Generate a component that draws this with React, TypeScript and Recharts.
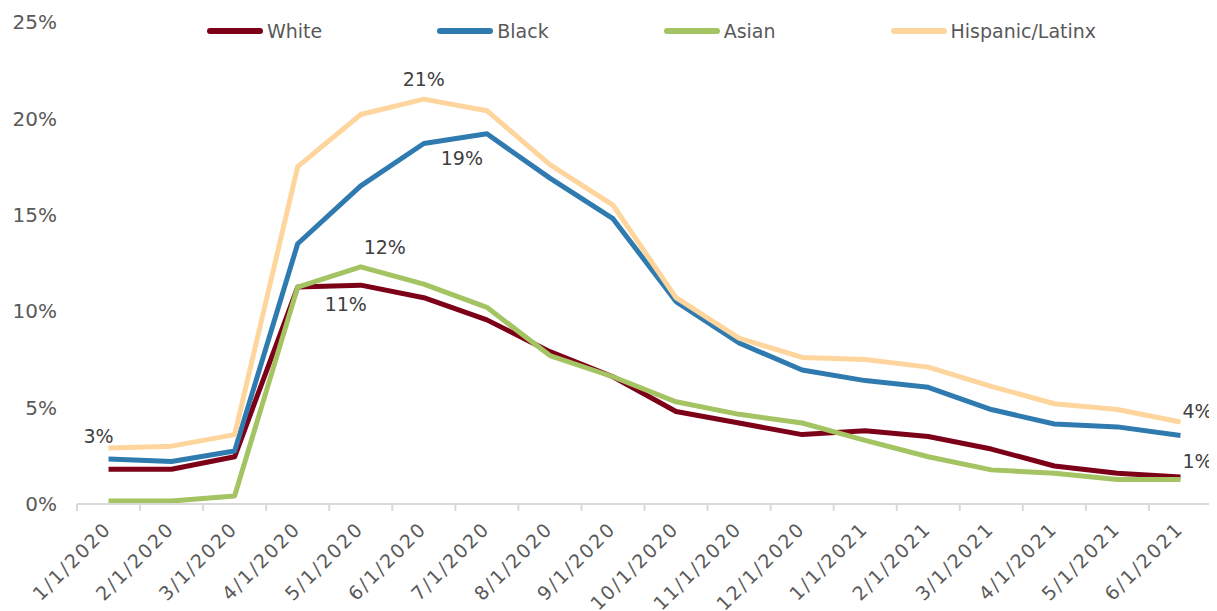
import { LineChart, Line, XAxis, YAxis, Legend, LabelList } from "recharts";

// Monthly dates on the x axis
const MONTHS = [
  "1/1/2020", "2/1/2020", "3/1/2020", "4/1/2020", "5/1/2020", "6/1/2020",
  "7/1/2020", "8/1/2020", "9/1/2020", "10/1/2020", "11/1/2020", "12/1/2020",
  "1/1/2021", "2/1/2021", "3/1/2021", "4/1/2021", "5/1/2021", "6/1/2021",
];

// Rates in percent
const WHITE = [1.8, 1.8, 2.45, 11.25, 11.35, 10.7, 9.55, 7.9, 6.6, 4.8, 4.2, 3.6, 3.8, 3.5, 2.85, 1.97, 1.6, 1.4];
const BLACK = [2.33, 2.2, 2.75, 13.5, 16.5, 18.7, 19.2, 16.9, 14.8, 10.5, 8.35, 6.95, 6.4, 6.05, 4.9, 4.15, 4.0, 3.55];
const ASIAN = [0.15, 0.15, 0.42, 11.25, 12.3, 11.4, 10.2, 7.7, 6.6, 5.3, 4.65, 4.2, 3.3, 2.45, 1.77, 1.6, 1.27, 1.27];
const HISPANIC = [2.9, 3.0, 3.6, 17.5, 20.2, 21.0, 20.4, 17.6, 15.5, 10.7, 8.6, 7.6, 7.5, 7.1, 6.1, 5.2, 4.9, 4.25];

const Y_TICKS = [0, 5, 10, 15, 20, 25];

const SERIES = [
  { key: "white", name: "White", color: "#7d0019" },
  { key: "black", name: "Black", color: "#2f7bb0" },
  { key: "asian", name: "Asian", color: "#a4c362" },
  { key: "hispanic", name: "Hispanic/Latinx", color: "#fed69d" },
];

// which points get a value label (series -> month index)
const LABELLED: Record<string, number[]> = {
  white: [4, 17],
  black: [6],
  asian: [4],
  hispanic: [0, 5, 17],
};

const data = MONTHS.map((m, i) => ({
  month: m,
  white: WHITE[i],
  black: BLACK[i],
  asian: ASIAN[i],
  hispanic: HISPANIC[i],
}));

const W = 1209;
const H = 603;
const MARGIN = { top: 14, right: 5, left: 0, bottom: 7 };
const Y_W = 69;
const PLOT_W = W - MARGIN.left - MARGIN.right - Y_W;
const BAND = PLOT_W / MONTHS.length;
const FONT = "DejaVu Sans";
const TEXT = "#595959";
const AXIS = "#d9d9d9";

// label nudges, keyed by series and index
const NUDGE: Record<string, [number, number]> = {
  "hispanic-0": [-10, -12],
  "hispanic-5": [0, -20],
  "hispanic-17": [17, -11],
  "black-6": [-25, 24],
  "asian-4": [24, -20],
  "white-4": [-15, 19],
  "white-17": [17, -16],
};

function makeLabel(key: string) {
  return (props: any) => {
    const { x, y, value, index } = props;
    if (!LABELLED[key].includes(index)) return null;
    const [dx, dy] = NUDGE[`${key}-${index}`] || [0, -15];
    return (
      <text
        x={x + dx}
        y={y + dy}
        textAnchor="middle"
        dominantBaseline="central"
        fontFamily={FONT}
        fontSize={19}
        fill="#404040"
      >
        {Math.round(value)}%
      </text>
    );
  };
}

function MonthTick(props: any) {
  const { x, y, payload, index } = props;
  return (
    <g>
      <line x1={x - BAND / 2} y1={y} x2={x - BAND / 2} y2={y + 7} stroke={AXIS} strokeWidth={2} />
      {index === MONTHS.length - 1 && (
        <line x1={x + BAND / 2} y1={y} x2={x + BAND / 2} y2={y + 7} stroke={AXIS} strokeWidth={2} />
      )}
      <text
        x={x + 4}
        y={y + 26}
        transform={`rotate(-45, ${x + 4}, ${y + 26})`}
        textAnchor="end"
        fontFamily={FONT}
        fontSize={19}
        letterSpacing={2}
        fill={TEXT}
      >
        {payload.value}
      </text>
    </g>
  );
}

function LegendBox() {
  return (
    <div style={{ display: "flex", alignItems: "center", fontFamily: FONT, fontSize: 19, color: TEXT }}>
      {SERIES.map((s, i) => (
        <div key={s.key} style={{ display: "flex", alignItems: "center", marginLeft: i === 0 ? 0 : 115 }}>
          <div style={{ width: 56, height: 6, borderRadius: 3, background: s.color, marginRight: 4 }} />
          <span>{s.name}</span>
        </div>
      ))}
    </div>
  );
}

export default function App() {
  return (
    <LineChart width={W} height={H} data={data} margin={MARGIN}>
      <XAxis
        dataKey="month"
        scale="band"
        interval={0}
        tickLine={false}
        tickSize={0}
        tickMargin={0}
        axisLine={{ stroke: AXIS, strokeWidth: 2 }}
        tick={<MonthTick />}
        height={100}
      />
      <YAxis
        domain={[0, 25]}
        ticks={Y_TICKS}
        width={Y_W}
        axisLine={false}
        tickLine={false}
        tickMargin={14}
        tickFormatter={(v: number) => `${v}%`}
        tick={{ fill: TEXT, fontFamily: FONT, fontSize: 20 }}
      />
      <Legend
        verticalAlign="middle"
        wrapperStyle={{ top: 12, left: 199, width: "auto" }}
        content={<LegendBox />}
      />
      {SERIES.map((s) => (
        <Line
          key={s.key}
          dataKey={s.key}
          name={s.name}
          stroke={s.color}
          strokeWidth={5}
          dot={false}
          activeDot={false}
          strokeLinejoin="round"
          isAnimationActive={false}
        >
          <LabelList dataKey={s.key} content={makeLabel(s.key)} />
        </Line>
      ))}
    </LineChart>
  );
}
